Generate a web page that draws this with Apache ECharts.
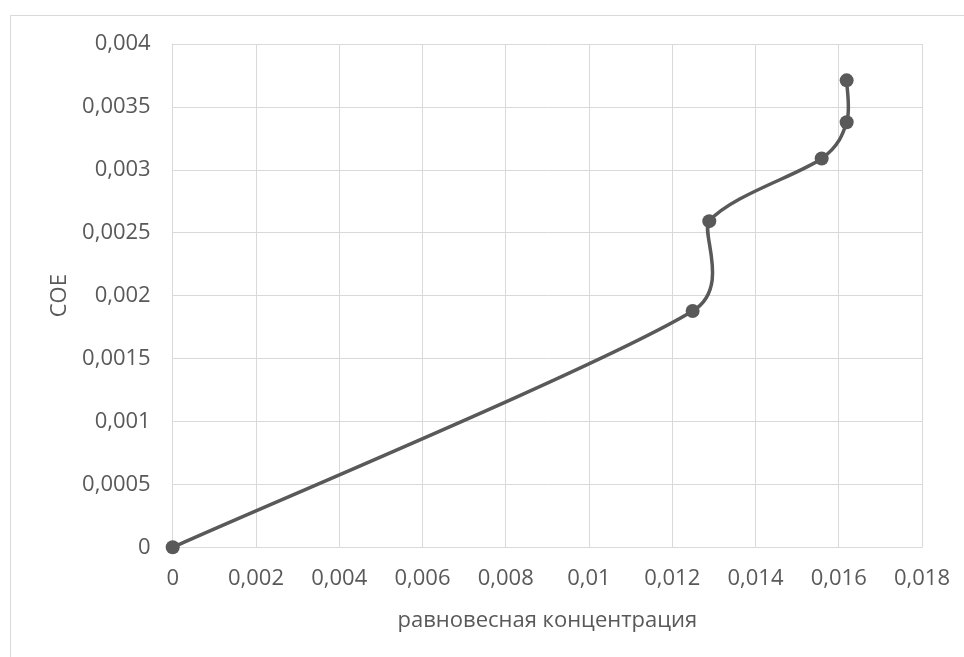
<!DOCTYPE html>
<html>
<head>
<meta charset="utf-8">
<script src="https://cdn.jsdelivr.net/npm/echarts@6/dist/echarts.min.js"></script>
<style>
  html, body { margin: 0; padding: 0; background: #ffffff; }
  #chart { width: 964px; height: 657px; }
</style>
</head>
<body>
<div id="chart"></div>
<script>
// Equilibrium concentration (x) vs. COE (y)
const concentration = [0, 0.01249, 0.01289, 0.01559, 0.01619, 0.01619];
const coe = [0, 0.001878, 0.002592, 0.00309, 0.003378, 0.003711];

const xTitle = 'равновесная концентрация';
const yTitle = 'COE';

const textColor = '#595959';
const gridColor = '#d9d9d9';
const lineColor = '#595959';
const fontFamily = '"Open Sans", "Noto Sans", sans-serif';
const fontSize = 22;

// Comma as decimal separator, trailing zeros trimmed
function fmt(v) {
  if (v === 0) return '0';
  return parseFloat(v.toFixed(6)).toString().replace('.', ',');
}

const points = concentration.map((x, i) => [x, coe[i]]);

// Smoothed segment i -> i+1 as a cubic Bezier in pixel space.
// Control legs follow the chord of the neighbouring points (1/6 tension),
// shortened when a leg would exceed half of the segment length.
function renderSegment(params, api) {
  const i = params.dataIndex;
  const n = points.length;
  if (i >= n - 1) return null;
  const px = points.map(p => api.coord(p));
  const p0 = px[Math.max(i - 1, 0)];
  const p1 = px[i];
  const p2 = px[i + 1];
  const p3 = px[Math.min(i + 2, n - 1)];
  const dist = (a, b) => Math.hypot(b[0] - a[0], b[1] - a[1]);
  const d02 = dist(p0, p2);
  const d13 = dist(p1, p3);
  const d12 = dist(p1, p2);
  let f = 1 / 6;
  if (d02 / 6 >= d12 / 2 || d13 / 6 >= d12 / 2) {
    f = d12 / (2 * Math.max(d02, d13));
  }
  return {
    type: 'bezierCurve',
    shape: {
      x1: p1[0], y1: p1[1],
      cpx1: p1[0] + (p2[0] - p0[0]) * f,
      cpy1: p1[1] + (p2[1] - p0[1]) * f,
      cpx2: p2[0] - (p3[0] - p1[0]) * f,
      cpy2: p2[1] - (p3[1] - p1[1]) * f,
      x2: p2[0], y2: p2[1]
    },
    style: { stroke: lineColor, lineWidth: 3.5, fill: null, lineCap: 'round' }
  };
}

const chart = echarts.init(document.getElementById('chart'), null, { renderer: 'canvas' });
chart.setOption({
  animation: false,
  backgroundColor: '#ffffff',
  grid: { left: 172.7, right: 42, top: 44, bottom: 109.7, containLabel: false },
  graphic: [{
    type: 'rect',
    shape: { x: 10.5, y: 15.5, width: 1200, height: 1200 },
    style: { fill: 'none', stroke: gridColor, lineWidth: 1 },
    silent: true,
    z: -10
  }],
  xAxis: {
    type: 'value',
    min: 0,
    max: 0.018,
    interval: 0.002,
    name: xTitle,
    nameLocation: 'middle',
    nameGap: 62,
    nameTextStyle: { color: textColor, fontFamily, fontSize },
    axisLine: { show: true, lineStyle: { color: gridColor, width: 1 } },
    axisTick: { show: false },
    axisLabel: { color: textColor, fontFamily, fontSize, margin: 20, formatter: fmt },
    splitLine: { show: true, lineStyle: { color: gridColor, width: 1 } }
  },
  yAxis: {
    type: 'value',
    min: 0,
    max: 0.004,
    interval: 0.0005,
    name: yTitle,
    nameLocation: 'middle',
    nameGap: 102,
    nameTextStyle: { color: textColor, fontFamily, fontSize },
    axisLine: { show: true, lineStyle: { color: gridColor, width: 1 } },
    axisTick: { show: false },
    axisLabel: { color: textColor, fontFamily, fontSize, margin: 22, formatter: fmt },
    splitLine: { show: true, lineStyle: { color: gridColor, width: 1 } }
  },
  series: [
    {
      type: 'custom',
      data: points,
      renderItem: renderSegment,
      clip: false,
      z: 4
    },
    {
      type: 'scatter',
      data: points,
      symbol: 'circle',
      symbolSize: 14,
      itemStyle: { color: lineColor, opacity: 1 },
      z: 5
    }
  ]
});
</script>
</body>
</html>
